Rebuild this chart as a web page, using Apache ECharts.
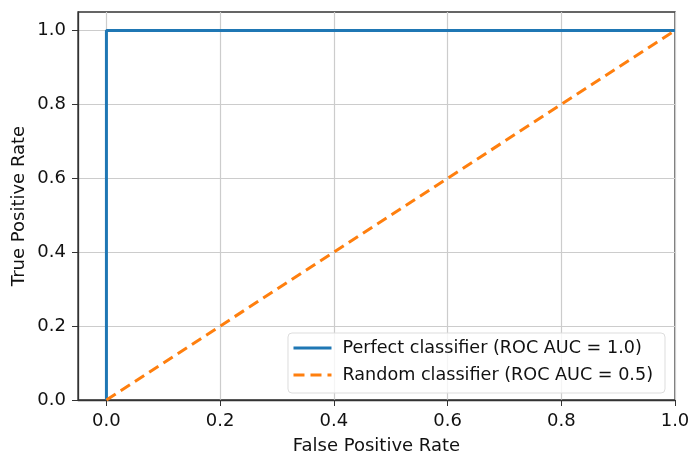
<!DOCTYPE html>
<html>
<head>
<meta charset="utf-8">
<script src="https://cdn.jsdelivr.net/npm/echarts@6/dist/echarts.min.js"></script>
<style>
  html, body { margin: 0; padding: 0; background: #fff; }
  #chart { width: 690px; height: 454px; }
</style>
</head>
<body>
<div id="chart"></div>
<script>
  // ROC curves
  const perfectFpr = [0, 0, 1];
  const perfectTpr = [0, 1, 1];
  const randomFpr = [0, 1];
  const randomTpr = [0, 1];
  const tickValues = [0, 0.2, 0.4, 0.6, 0.8, 1.0];
  const seriesNames = ['Perfect classifier (ROC AUC = 1.0)', 'Random classifier (ROC AUC = 0.5)'];

  const font = 'DejaVu Sans';
  const txt = '#111';

  const chart = echarts.init(document.getElementById('chart'));
  chart.setOption({
    animation: false,
    grid: {
      left: 78, right: 15, top: 12, bottom: 54,
      outerBoundsMode: 'none', containLabel: false,
      show: true, borderColor: '#333', borderWidth: 1.3
    },
    legend: {
      orient: 'vertical',
      right: 25, top: 333,
      data: seriesNames,
      itemWidth: 38, itemHeight: 14, itemGap: 9,
      padding: [6, 12, 9, 4],
      borderColor: '#ddd', borderWidth: 1, borderRadius: 4,
      backgroundColor: 'rgba(255,255,255,0.8)',
      itemStyle: { opacity: 0 },
      lineStyle: { width: 3 },
      textStyle: { fontFamily: font, fontSize: 17.6, color: txt, padding: [0, 0, 0, 6] }
    },
    xAxis: {
      type: 'value', min: -0.05, max: 1.0,
      name: 'False Positive Rate', nameLocation: 'middle', nameGap: 37,
      nameTextStyle: { fontFamily: font, fontSize: 18, color: txt },
      axisLine: { onZero: false, lineStyle: { color: '#333', width: 1.3 } },
      axisTick: { show: true, length: 6, customValues: tickValues, lineStyle: { color: '#333' } },
      axisLabel: {
        customValues: tickValues, fontFamily: font, fontSize: 18, color: txt, margin: 12,
        formatter: v => v.toFixed(1)
      },
      splitLine: { show: true, lineStyle: { color: '#ccc', width: 1.2 } }
    },
    yAxis: {
      type: 'value', min: 0, max: 1.05,
      name: 'True Positive Rate', nameLocation: 'middle', nameGap: 50, nameRotate: 90,
      nameMoveOverlap: false,
      nameTextStyle: { fontFamily: font, fontSize: 18, color: txt },
      axisLine: { show: true, onZero: false, lineStyle: { color: '#333', width: 1.3 } },
      axisTick: { show: true, length: 6, customValues: tickValues, lineStyle: { color: '#333' } },
      axisLabel: {
        customValues: tickValues, fontFamily: font, fontSize: 18, color: txt, margin: 12,
        formatter: v => v.toFixed(1)
      },
      splitLine: { show: true, lineStyle: { color: '#ccc', width: 1.2 } }
    },
    series: [
      {
        name: seriesNames[0], type: 'line', symbol: 'none',
        data: perfectFpr.map((x, i) => [x, perfectTpr[i]]),
        lineStyle: { color: '#1f77b4', width: 3 }, itemStyle: { color: '#1f77b4' },
        z: 3
      },
      {
        name: seriesNames[1], type: 'line', symbol: 'none',
        data: randomFpr.map((x, i) => [x, randomTpr[i]]),
        lineStyle: { color: '#ff7f0e', width: 3, type: [11, 6] }, itemStyle: { color: '#ff7f0e' },
        z: 4
      }
    ]
  });
</script>
</body>
</html>
